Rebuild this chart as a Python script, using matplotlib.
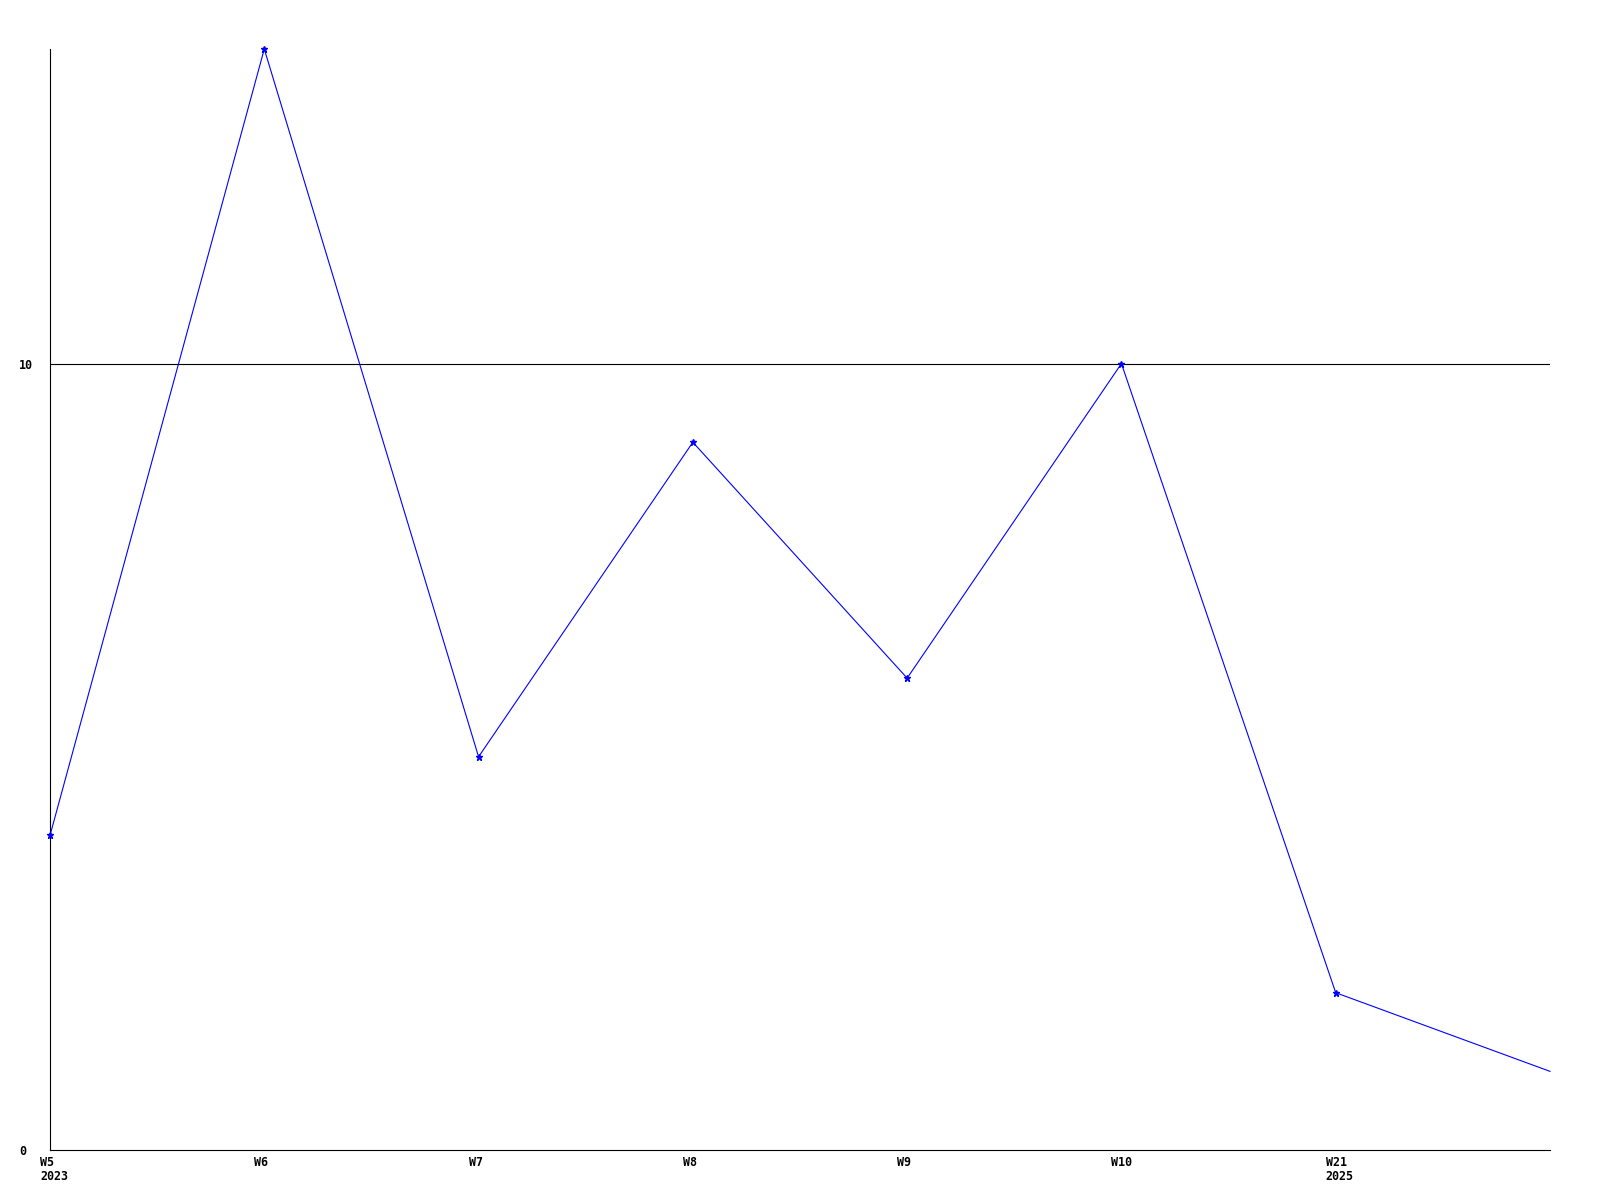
import matplotlib.pyplot as plt
from matplotlib.transforms import ScaledTranslation

weeks = ['W5', 'W6', 'W7', 'W8', 'W9', 'W10', 'W21', '']
years = ['2023', '', '', '', '', '', '2025', '']
counts = [4, 14, 5, 9, 6, 10, 2, 1]
y_ticks = [0, 10]

fig = plt.figure(figsize=(16, 12), dpi=100)
ax = fig.add_axes([50 / 1600, 50 / 1200, 1500 / 1600, 1101 / 1200])

x = list(range(len(counts)))
# last point (current week) has no marker
ax.plot(x, counts, color='#0000ff', linewidth=0.8, marker='*', markersize=5,
        markevery=list(range(len(counts) - 1)), zorder=3, clip_on=False)

ax.set_xlim(0, len(counts) - 1)
ax.set_ylim(0, 14)

# horizontal guide at 10
ax.axhline(10, color='black', linewidth=0.8, zorder=1)

for side in ['top', 'right']:
    ax.spines[side].set_visible(False)
for side in ['left', 'bottom']:
    ax.spines[side].set_linewidth(0.8)
    ax.spines[side].set_color('black')

font = dict(family='DejaVu Sans Mono', weight='bold', size=8.4)

ax.set_xticks(x)
labels = []
for w, yr in zip(weeks, years):
    labels.append(w + ('\n' + yr if yr else ''))
ax.set_xticklabels(labels, ha='left', va='top', linespacing=1.1, **font)
ax.tick_params(axis='x', length=0, pad=4.5)
shift = ScaledTranslation(-10 / 100, 0, fig.dpi_scale_trans)
for lab in ax.get_xticklabels():
    lab.set_transform(lab.get_transform() + shift)

ax.set_yticks(y_ticks)
ax.set_yticklabels([str(v) for v in y_ticks], ha='left', **font)
ax.tick_params(axis='y', length=0, pad=22.3)

plt.savefig('out.png', dpi=100)
